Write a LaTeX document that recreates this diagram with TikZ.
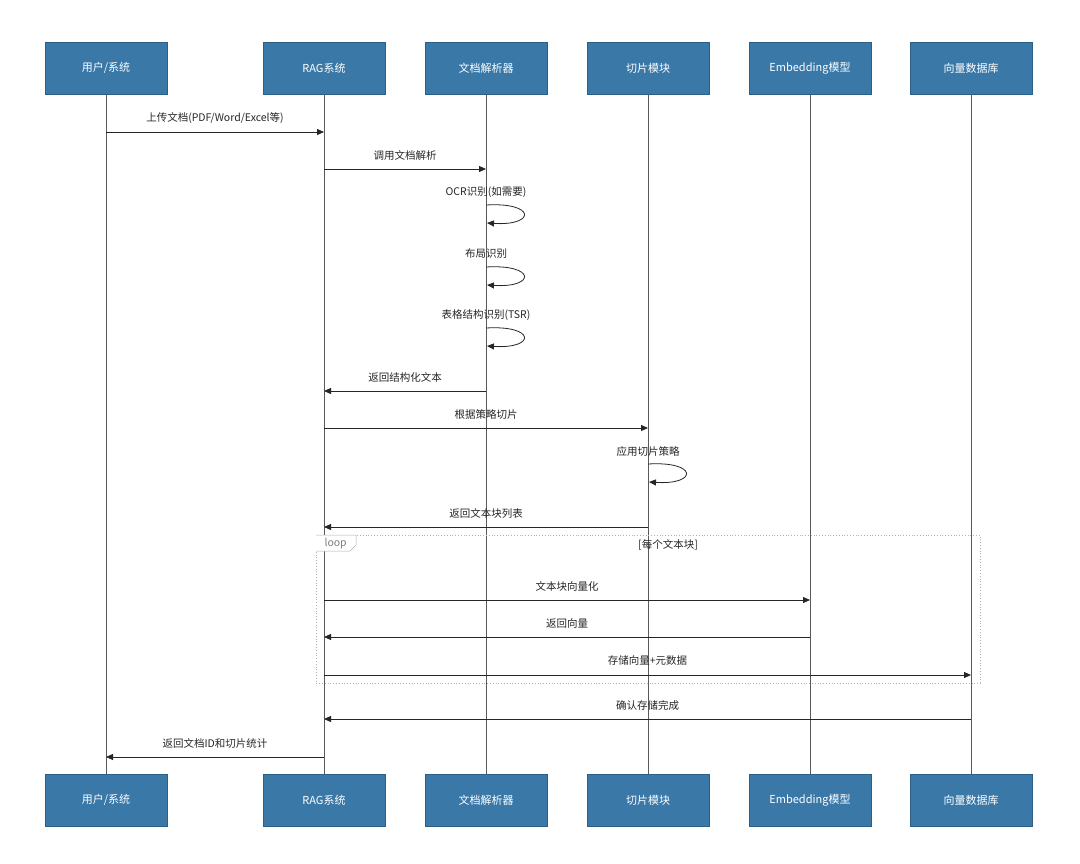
\documentclass[tikz,border=0pt]{standalone}
\usepackage{fontspec}
\setmainfont{Noto Sans CJK SC}
\usetikzlibrary{arrows.meta,calc}
\definecolor{actor}{HTML}{3A78A8}
\definecolor{actorb}{HTML}{2B5F88}
\begin{document}
\begin{tikzpicture}[x=1pt,y=-1pt,
  box/.style={draw=actorb,fill=actor,minimum width=122pt,minimum height=52pt,text=white,font=\fontsize{11}{13}\selectfont,inner sep=0pt},
  life/.style={draw=gray!70!black,line width=0.8pt},
  msg/.style={draw=black!85,line width=0.8pt,-{Triangle[length=7pt,width=6pt]}},
  lbl/.style={font=\fontsize{10.5}{12}\selectfont,text=black!85}]
\useasboundingbox (0,0) rectangle (1080,863);
\fill[white] (0,0) rectangle (1080,863);
\foreach \n/\x in {u/106,r/324,p/486,c/648,e/810,v/971}{
  \coordinate (\n t) at (\x,94);
  \coordinate (\n b) at (\x,774);
}
\draw[life] (ut)--(ub); \draw[life] (rt)--(rb); \draw[life] (pt)--(pb);
\draw[life] (ct)--(cb); \draw[life] (et)--(eb); \draw[life] (vt)--(vb);
\foreach \n/\x/\t in {u/106/{用户/系统},r/324/RAG系统,p/486/文档解析器,c/648/切片模块,e/810/Embedding模型,v/971/向量数据库}{
  \node[box] (\n1) at (\x,68) {\t};
  \node[box] (\n2) at (\x,800) {\t};
}
% loop frame
\draw[gray!60,dotted,line width=0.8pt] (316,535) rectangle (980,683);
\draw[gray!60,fill=white,line width=0.5pt] (316,535) -- (356,535) -- (356,545) -- (350,551) -- (316,551);
\node[lbl,text=gray,anchor=west] (lp) at (321,544) {loop};
\node[lbl] (lc) at (668,545) {[每个文本块]};
% messages
\foreach \a/\b/\y/\t in {u/r/132/{上传文档(PDF/Word/Excel等)},r/p/169/调用文档解析,p/r/391/返回结构化文本,r/c/428/根据策略切片,c/r/527/返回文本块列表,r/e/600/文本块向量化,e/r/637/返回向量,r/v/675/存储向量+元数据,v/r/719/确认存储完成,r/u/757/返回文档ID和切片统计}{
  \coordinate (s) at (\a t |- 0,\y);
  \coordinate (d) at (\b t |- 0,\y);
  \draw[msg] (s) -- (d);
  \node[lbl] at ($(s)!0.5!(d)+(0,-14)$) {\t};
}
% self messages
\foreach \x/\y/\t in {486/205/OCR识别(如需要),486/267/布局识别,486/328/表格结构识别(TSR),648/464/应用切片策略}{
  \coordinate (a) at (\x,\y);
  \node[lbl] at (\x,\y-13) {\t};
  \draw[msg] (a) .. controls (\x+50,\y-3) and (\x+50,\y+21) .. (\x+1,\y+18);
}
\end{tikzpicture}
\end{document}
